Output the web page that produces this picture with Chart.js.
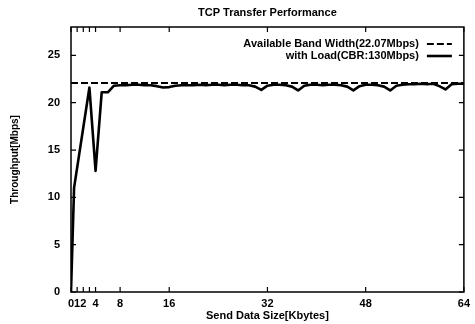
<!DOCTYPE html>
<html>
<head>
<meta charset="utf-8">
<script src="https://cdn.jsdelivr.net/npm/chart.js@4"></script>
<style>
  html, body { margin: 0; padding: 0; background: #fff; }
  #wrap { width: 475px; height: 324px; }
</style>
</head>
<body>
<div id="wrap"><canvas id="chart" width="475" height="324"></canvas></div>
<script>
// Data
const sizeKb = [0, 0.5, 3, 4, 5, 6, 7,
  8, 9, 10, 11, 12, 13, 14, 15, 16, 17, 18, 19, 20, 21, 22, 23, 24, 25, 26, 27, 28, 29, 30,
  31, 32, 33, 34, 35, 36, 37, 38, 39, 40, 41, 42, 43, 44, 45, 46, 47, 48, 49, 50, 51, 52,
  53, 54, 55, 56, 57, 58, 59, 60, 61, 62, 63, 64];
const throughput = [0, 11.0, 21.6, 12.8, 21.1, 21.1, 21.8,
  21.85, 21.85, 21.9, 21.9, 21.85, 21.85, 21.75, 21.6, 21.65, 21.8, 21.85, 21.85, 21.85, 21.9, 21.85, 21.9, 21.9, 21.85, 21.9, 21.9, 21.85, 21.85, 21.7,
  21.35, 21.8, 21.9, 21.9, 21.85, 21.7, 21.3, 21.8, 21.9, 21.9, 21.85, 21.9, 21.9, 21.85, 21.7, 21.3, 21.75, 21.9, 21.9, 21.85, 21.7, 21.3,
  21.8, 21.9, 21.95, 21.95, 22.0, 21.95, 22.0, 21.75, 21.4, 21.95, 22.0, 22.0];
const bandwidth = 22.07;                                   // Available band width (Mbps)
const xTicks = [0, 1, 2, 4, 8, 16, 32, 48, 64];            // Labelled x ticks
const xMarks = [0, 1, 2, 3, 4, 8, 16, 32, 48, 64];         // Tick marks on x axis
const yTicks = [0, 5, 10, 15, 20, 25];
const legendLabels = ['Available Band Width(22.07Mbps)', 'with Load(CBR:130Mbps)'];
const chartTitle = 'TCP Transfer Performance';

const fontFamily = '"Liberation Sans", Arial, sans-serif';

// Points for the datasets
const loadPoints = sizeKb.map((x, i) => ({ x: x, y: throughput[i] }));
const bandPoints = [{ x: 0, y: bandwidth }, { x: 64, y: bandwidth }];

// Frame, inner tick marks, title and legend (gnuplot style)
const framePlugin = {
  id: 'frame',
  afterDatasetsDraw(chart) {
    const { ctx, chartArea: a, scales: { x, y } } = chart;
    const len = 5;

    ctx.save();
    ctx.strokeStyle = '#000';
    ctx.lineWidth = 1.5;
    ctx.setLineDash([]);
    ctx.strokeRect(a.left, a.top, a.right - a.left, a.bottom - a.top);

    ctx.lineWidth = 1.2;
    ctx.beginPath();
    xMarks.forEach((v) => {
      const px = x.getPixelForValue(v);
      ctx.moveTo(px, a.bottom); ctx.lineTo(px, a.bottom - len);
      ctx.moveTo(px, a.top);    ctx.lineTo(px, a.top + len);
    });
    yTicks.forEach((v) => {
      const py = y.getPixelForValue(v);
      ctx.moveTo(a.left, py);  ctx.lineTo(a.left + len, py);
      ctx.moveTo(a.right, py); ctx.lineTo(a.right - len, py);
    });
    ctx.stroke();

    // Title centred over the plot area
    ctx.fillStyle = '#000';
    ctx.font = 'bold 11px ' + fontFamily;
    ctx.textAlign = 'center';
    ctx.textBaseline = 'middle';
    ctx.fillText(chartTitle, (a.left + a.right) / 2, 13);

    // Legend: right aligned text with sample line on its right
    ctx.textAlign = 'right';
    const rows = [a.top + 17, a.top + 29];
    chart.data.datasets.forEach((ds, i) => {
      ctx.fillText(legendLabels[i], a.right - 45, rows[i]);
      ctx.beginPath();
      ctx.lineWidth = ds.borderWidth;
      ctx.setLineDash(ds.borderDash || []);
      ctx.moveTo(a.right - 37, rows[i]);
      ctx.lineTo(a.right - 12, rows[i]);
      ctx.stroke();
    });
    ctx.restore();
  },
};

new Chart(document.getElementById('chart'), {
  type: 'line',
  data: {
    datasets: [
      {
        label: legendLabels[0],
        data: bandPoints,
        borderColor: '#000',
        borderWidth: 2,
        borderDash: [7, 3],
        pointRadius: 0,
        tension: 0,
      },
      {
        label: legendLabels[1],
        data: loadPoints,
        borderColor: '#000',
        borderWidth: 2.6,
        borderJoinStyle: 'round',
        pointRadius: 0,
        tension: 0,
      },
    ],
  },
  options: {
    responsive: false,
    animation: false,
    events: [],
    layout: { padding: { left: 0, right: 9, top: 27, bottom: 0 } },
    scales: {
      x: {
        type: 'linear',
        min: 0,
        max: 64,
        grid: { display: false, drawTicks: false },
        border: { display: false },
        afterBuildTicks: (s) => { s.ticks = xTicks.map((v) => ({ value: v })); },
        afterFit: (s) => { s.height = 32; },
        ticks: {
          autoSkip: false,
          maxRotation: 0,
          padding: 5,
          color: '#000',
          font: { family: fontFamily, size: 11, weight: 'bold' },
        },
        title: {
          display: true,
          text: 'Send Data Size[Kbytes]',
          color: '#000',
          padding: { top: 0, bottom: 1 },
          font: { family: fontFamily, size: 11, weight: 'bold' },
        },
      },
      y: {
        min: 0,
        max: 28,
        grid: { display: false, drawTicks: false },
        border: { display: false },
        afterBuildTicks: (s) => { s.ticks = yTicks.map((v) => ({ value: v })); },
        afterFit: (s) => { s.width = 71; },
        ticks: {
          padding: 11,
          color: '#000',
          font: { family: fontFamily, size: 11, weight: 'bold' },
        },
        title: {
          display: true,
          text: 'Throughput[Mbps]',
          color: '#000',
          padding: { top: 9, bottom: 0 },
          font: { family: fontFamily, size: 10, weight: 'bold' },
        },
      },
    },
    plugins: {
      legend: { display: false },
      tooltip: { enabled: false },
      title: { display: false },
    },
  },
  plugins: [framePlugin],
});
</script>
</body>
</html>
